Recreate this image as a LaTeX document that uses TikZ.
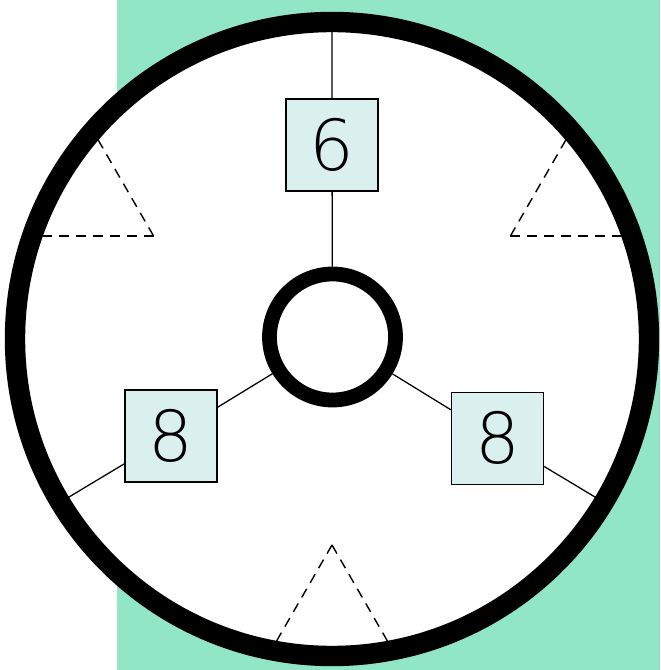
\documentclass[tikz,border=0pt]{standalone}
\usepackage{fontspec}
\newfontfamily\digitfont{DejaVu Sans}[UprightFont=* ExtraLight]
\definecolor{mintgreen}{RGB}{145, 230, 198}
\definecolor{paleaqua}{RGB}{218, 240, 238}
\usetikzlibrary{calc}

\begin{document}
\begin{tikzpicture}[x=0.025cm, y=0.025cm,
    digitbox/.style={draw, line width=1pt, fill=paleaqua, minimum size=2.3cm,
                     inner sep=0pt, font=\digitfont\fontsize{50}{50}\selectfont}]
    \useasboundingbox (-332,-331) rectangle (328,339);
    % backdrop and disc
    \fill[mintgreen] (-215,-331) rectangle (328,339);
    \fill[white] (0,0) circle (317);
    % dashed wedges
    \begin{scope}
        \clip (0,0) circle (317);
        \foreach \a in {30,150,270} {
            \draw[line width=1pt, dash pattern=on 7pt off 5pt] (\a:206) -- +({\a+30}:300);
            \draw[line width=1pt, dash pattern=on 7pt off 5pt] (\a:206) -- +({\a-30}:300);
        }
    \end{scope}
    % hub and boxes
    \node[circle, draw, line width=10.5pt, fill=white, minimum size=3.15cm] (hub) at (0.5,2) {};
    \foreach \a/\r/\num in {90/194/6, 211/188/8, 329/193/8} {
        \coordinate (rim\a) at (\a:317);
        \node[digitbox] (box\a) at (\a:\r) {\num};
        \draw[line width=0.9pt] (rim\a) -- (box\a) -- (hub);
    }
    % outer ring
    \draw[line width=14.5pt] (0,0) circle (317);
\end{tikzpicture}
\end{document}
